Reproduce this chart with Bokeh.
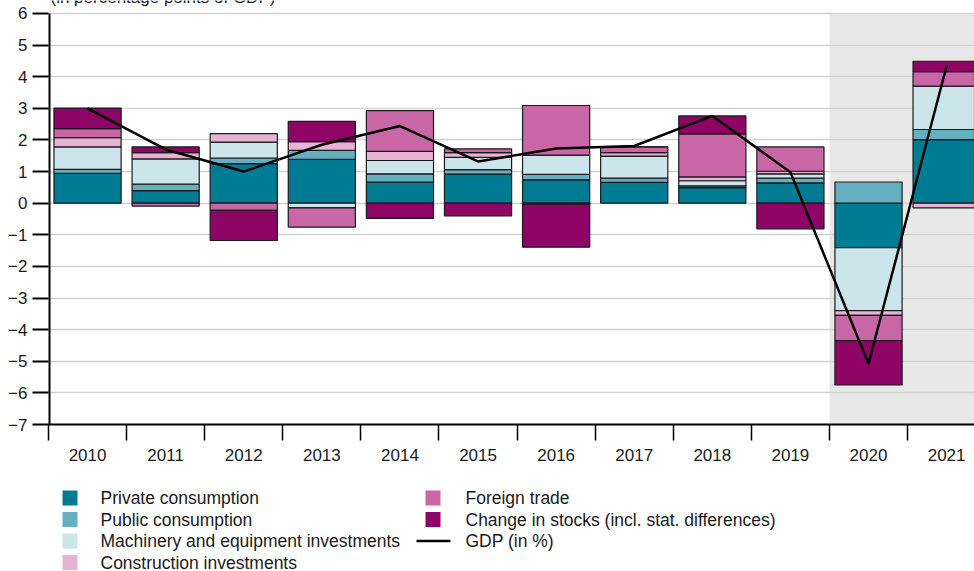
from bokeh.plotting import figure
from bokeh.models import (ColumnDataSource, Range1d, FixedTicker, BoxAnnotation, Label)
from bokeh.layouts import column
from bokeh.core.properties import value
from bokeh.embed import file_html
from bokeh.resources import INLINE

# ---- data (contributions to GDP growth, percentage points) ----
years = ["2010", "2011", "2012", "2013", "2014", "2015", "2016", "2017", "2018", "2019", "2020", "2021"]
private_consumption = [0.94, 0.40, 1.25, 1.39, 0.67, 0.92, 0.74, 0.66, 0.49, 0.64, -1.41, 2.01]
public_consumption = [0.13, 0.20, 0.18, 0.28, 0.26, 0.14, 0.17, 0.13, 0.06, 0.15, 0.67, 0.32]
machinery_investments = [0.71, 0.80, 0.50, -0.15, 0.42, 0.39, 0.61, 0.70, 0.16, 0.14, -1.99, 1.37]
construction_investments = [0.29, 0.20, 0.27, 0.28, 0.29, 0.15, -0.03, 0.11, 0.12, 0.08, -0.15, -0.15]
foreign_trade = [0.29, -0.09, -0.23, -0.61, 1.29, 0.12, 1.57, 0.18, 1.36, 0.77, -0.80, 0.46]
change_in_stocks = [0.65, 0.18, -0.95, 0.64, -0.48, -0.40, -1.36, 0.0, 0.57, -0.81, -1.40, 0.33]
gdp = [3.0, 1.7, 1.0, 1.85, 2.44, 1.32, 1.73, 1.81, 2.76, 0.98, -5.08, 4.34]

series_names = ["Private consumption", "Public consumption", "Machinery and equipment investments",
                "Construction investments", "Foreign trade", "Change in stocks (incl. stat. differences)"]
series_values = [private_consumption, public_consumption, machinery_investments,
                 construction_investments, foreign_trade, change_in_stocks]
colors = ["#007b94", "#66afc1", "#cce5eb", "#e7b3d4", "#c966a5", "#8e0565"]
gdp_label = "GDP (in %)"
subtitle = "(in percentage points of GDP)"
y_ticks = list(range(-7, 7))

FONT = "Liberation Sans"
TXT = "#1a1a1a"
W = 974
LEFT = 48
MAIN_H = 475
LEG_H = 571 - MAIN_H

n = len(years)
centers = [i + 0.5 for i in range(n)]
bounds = [float(i) for i in range(n + 1)]

p = figure(width=W, height=MAIN_H, output_backend="svg", toolbar_location=None,
           x_range=Range1d(0, 11.857), y_range=Range1d(-7, 6.411),
           min_border_left=LEFT, min_border_right=0, min_border_top=0, min_border_bottom=51)
p.outline_line_color = None
p.background_fill_color = "white"
p.border_fill_color = "white"

# shaded region for 2020-2021 (behind grid)
shade = BoxAnnotation(left=10, top=6, fill_color="#e8e8e8", fill_alpha=1.0, line_color=None, level="underlay")
p.add_layout(shade)
p.center = [shade] + [r for r in p.center if r is not shade]

# stacked bars
pos = [0.0] * n
neg = [0.0] * n
for name, vals, col in zip(series_names, series_values, colors):
    bottoms, tops = [], []
    for i, v in enumerate(vals):
        if v >= 0:
            bottoms.append(pos[i]); tops.append(pos[i] + v); pos[i] += v
        else:
            tops.append(neg[i]); bottoms.append(neg[i] + v); neg[i] += v
    src = ColumnDataSource(dict(x=centers, bottom=bottoms, top=tops))
    p.vbar(x="x", width=0.86, bottom="bottom", top="top", source=src,
           fill_color=col, line_color="#1a1a1a", line_width=1.2)

line_src = ColumnDataSource(dict(x=centers, y=gdp))
p.line("x", "y", source=line_src, line_color="black", line_width=2.5)

# left spine from -7 to 6 only
p.segment(x0=[0], y0=[-7], x1=[0], y1=[6], line_color="black", line_width=4)

# axes
xa = p.xaxis[0]
xa.ticker = FixedTicker(ticks=centers, minor_ticks=bounds)
xa.major_label_overrides = {c: y for c, y in zip(centers, years)}
xa.major_tick_line_color = None
xa.major_tick_out = 16
xa.major_tick_in = 0
xa.minor_tick_out = 16
xa.minor_tick_in = 0
xa.minor_tick_line_color = "black"
xa.minor_tick_line_width = 1.5
xa.axis_line_width = 2
xa.axis_line_color = "black"
xa.major_label_standoff = 8
xa.major_label_text_font = FONT
xa.major_label_text_font_size = "17px"
xa.major_label_text_color = TXT

ya = p.yaxis[0]
ya.ticker = FixedTicker(ticks=y_ticks, minor_ticks=[])
ya.major_label_overrides = {t: (("\u2212" + str(-t)) if t < 0 else str(t)) for t in y_ticks}
ya.major_tick_out = 16
ya.major_tick_in = 0
ya.major_tick_line_width = 2
ya.major_tick_line_color = "black"
ya.axis_line_color = None
ya.major_label_standoff = 5
ya.major_label_text_font = FONT
ya.major_label_text_font_size = "17px"
ya.major_label_text_color = TXT

p.xgrid.visible = False
p.ygrid.ticker = FixedTicker(ticks=y_ticks)
p.ygrid.grid_line_color = "#d2d2d2"
p.ygrid.grid_line_width = 1.5

# subtitle, cut off by the top edge as in the reference
p.add_layout(Label(x=2, y=427, x_units="screen", y_units="screen",
                   text=subtitle, text_font=FONT,
                   text_font_size="17px", text_color=TXT, text_baseline="alphabetic"))

# ---- legend drawn in a second figure (pixel coordinates, y downward) ----
# its frame is aligned with the main frame (starts at x=LEFT)
lg = figure(width=W, height=LEG_H, output_backend="svg", toolbar_location=None,
            x_range=Range1d(LEFT, W), y_range=Range1d(571, MAIN_H),
            min_border_left=LEFT, min_border_right=0, min_border_top=0, min_border_bottom=0,
            x_axis_type=None, y_axis_type=None)
lg.outline_line_color = None
lg.grid.visible = False
lg.background_fill_color = "white"
lg.border_fill_color = "white"

row_y = [497.5, 519.0, 540.5, 562.0]
sw_x, sw_y, sw_c = [], [], []
lab_x, lab_y, lab_t = [], [], []
for k in range(4):
    sw_x.append(69.5); sw_y.append(row_y[k]); sw_c.append(colors[k])
    lab_x.append(100); lab_y.append(row_y[k]); lab_t.append(series_names[k])
for j, k in enumerate((4, 5)):
    sw_x.append(432.5); sw_y.append(row_y[j]); sw_c.append(colors[k])
    lab_x.append(465); lab_y.append(row_y[j]); lab_t.append(series_names[k])
lab_x.append(465); lab_y.append(row_y[2]); lab_t.append(gdp_label)

lg.rect(x=sw_x, y=sw_y, width=15, height=15, fill_color=sw_c, line_color=None)
lg.segment(x0=[416], y0=[row_y[2]], x1=[450], y1=[row_y[2]], line_color="black", line_width=2.5)
lg.text(x=lab_x, y=lab_y, text=lab_t, text_font=value(FONT), text_font_size="17.5px",
        text_color=TXT, text_baseline="middle", text_align="left")

layout = column(p, lg, spacing=0)
open("out.html", "w").write(file_html(layout, INLINE))
